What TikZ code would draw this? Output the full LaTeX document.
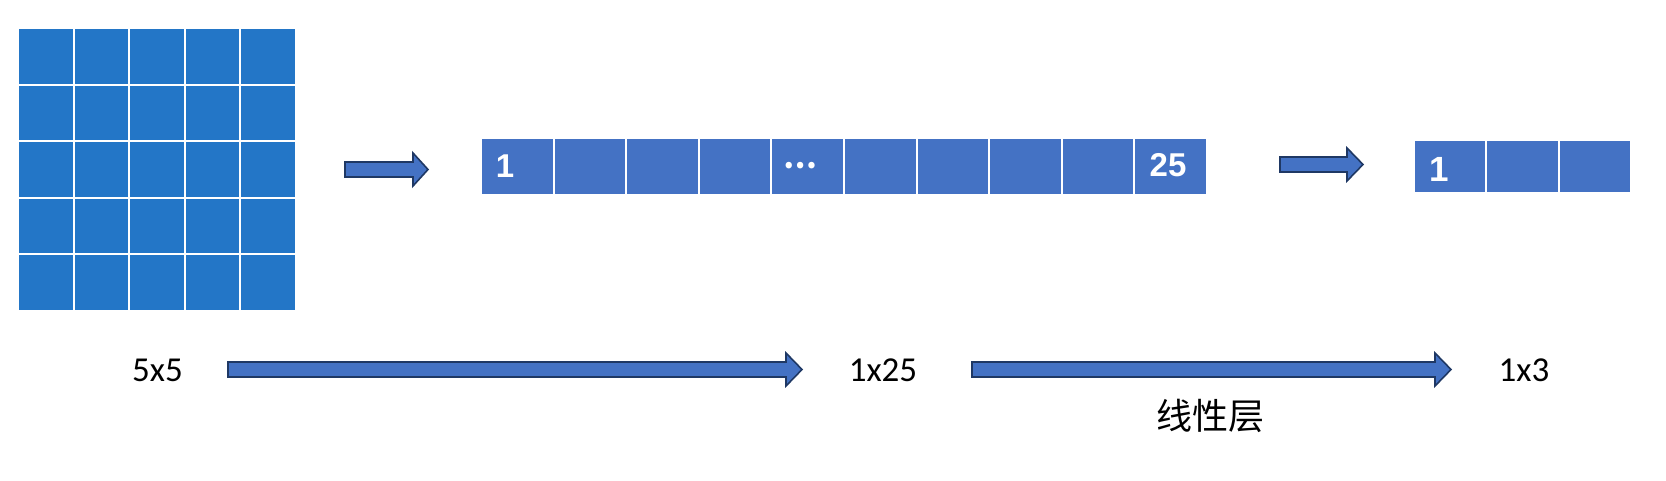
\documentclass[tikz,border=0pt]{standalone}
\usepackage{fontspec}
\setmainfont{Liberation Sans}
\newfontfamily\labfont{Carlito}
\newfontfamily\cjk{Noto Sans CJK SC}
\definecolor{gridblue}{RGB}{35,118,199}
\definecolor{cellblue}{RGB}{68,114,196}
\definecolor{arrowedge}{RGB}{31,56,100}
\newcommand\blockarr[4]{%
  \draw[barrow] (#1,#4-7.5) -- (#2,#4-7.5) -- (#2,#4-16.5) -- (#3,#4)
    -- (#2,#4+16.5) -- (#2,#4+7.5) -- (#1,#4+7.5) -- cycle;}
\begin{document}
\begin{tikzpicture}[x=1pt,y=-1pt,
  gcell/.style={rectangle, fill=gridblue, draw=white, line width=2pt,
    minimum width=55.6pt, minimum height=56.6pt, inner sep=0pt, outer sep=0pt},
  rcell/.style={rectangle, fill=cellblue, draw=white, line width=2pt,
    minimum width=72.6pt, minimum height=57pt, inner sep=0pt, outer sep=0pt},
  scell/.style={rectangle, fill=cellblue, draw=white, line width=2pt,
    minimum width=72.33pt, minimum height=53pt, inner sep=0pt, outer sep=0pt},
  celltext/.style={text=white, font=\fontsize{33}{33}\selectfont\bfseries, inner sep=0pt, anchor=base},
  lab/.style={font=\labfont\fontsize{35}{35}\selectfont, inner sep=0pt, anchor=base},
  barrow/.style={fill=cellblue, draw=arrowedge, line width=1.6pt, line join=miter}
]
\useasboundingbox (0,0) rectangle (1666,481);
% 5x5 grid
\foreach \i in {0,...,4}{
  \foreach \j in {0,...,4}{
    \node[gcell] (g\i\j) at ({18+55.6*(\i+0.5)},{28+56.6*(\j+0.5)}) {};
  }
}
% 1x25 row
\foreach \i in {0,...,9}{
  \node[rcell] (r\i) at ({481+72.6*(\i+0.5)},166.5) {};
}
% 1x3 row
\foreach \i in {0,...,2}{
  \node[scell] (s\i) at ({1414+72.33*(\i+0.5)},166.5) {};
}
% cell texts
\node[celltext] (t1) at (505,178) {1};
\node[text=white, font=\cjk\fontsize{30}{30}\selectfont\bfseries, inner sep=0pt] (tdots) at (800,166) {…};
\node[celltext] (t25) at (1168,177) {25};
\node[celltext, font=\fontsize{35}{35}\selectfont\bfseries] (t3) at (1439,182) {1};
% block arrows
\blockarr{345}{413}{428}{169.5}
\blockarr{1280}{1347}{1363}{164.5}
\blockarr{228}{786}{802}{369.5}
\blockarr{972}{1435}{1451}{369.5}
% labels
\node[lab] (l55) at (157.5,381) {5x5};
\node[lab] (l125) at (883,381) {1x25};
\node[lab] (l13) at (1524,381) {1x3};
\node[font=\cjk\fontsize{36}{36}\selectfont, inner sep=0pt, anchor=base] (lin) at (1210,429) {线性层};
\end{tikzpicture}
\end{document}
